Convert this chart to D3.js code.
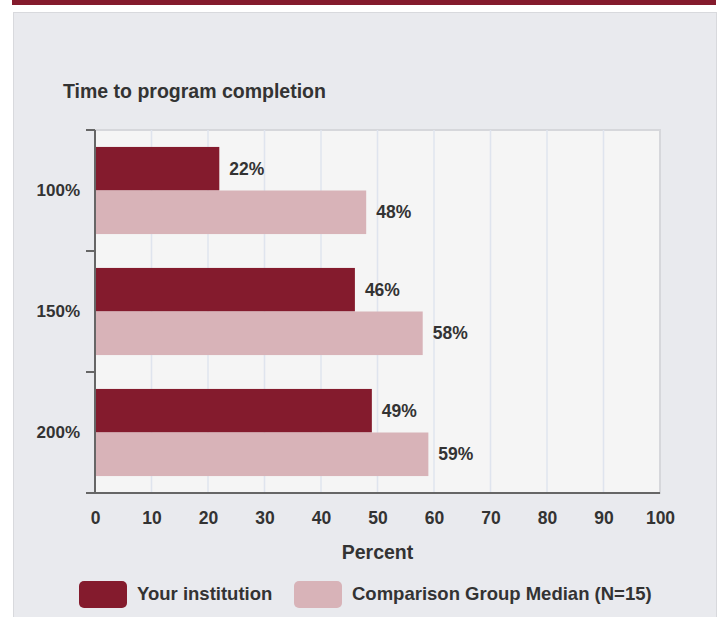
<!DOCTYPE html>
<html>
<head>
<meta charset="utf-8">
<script src="https://cdn.jsdelivr.net/npm/d3@7"></script>
<style>
  body { margin: 0; background: #fff; }
  svg { display: block; font-family: "Liberation Sans", Arial, sans-serif; }
</style>
</head>
<body>
<svg id="chart" width="721" height="617"></svg>
<script>
// data
var categories = ['100%', '150%', '200%'];
var seriesNames = ['Your institution', 'Comparison Group Median (N=15)'];
var institution = [22, 46, 49];
var comparison = [48, 58, 59];
var xTicks = [0, 10, 20, 30, 40, 50, 60, 70, 80, 90, 100];

var colors = ['#841b2d', '#d8b3b8'];
var textColor = '#333';

var svg = d3.select('#chart');

// top band + panel
svg.append('rect').attr('x', 12).attr('y', 0).attr('width', 704).attr('height', 5).attr('fill', '#841b2d');
svg.append('rect').attr('x', 13.5).attr('y', 12.5).attr('width', 703).attr('height', 620)
  .attr('fill', '#e9eaee').attr('stroke', '#d8d9dd');

var margin = {left: 95, right: 61, top: 130, bottom: 124};
var w = 721 - margin.left - margin.right;
var h = 617 - margin.top - margin.bottom;

var g = svg.append('g').attr('transform', 'translate(' + margin.left + ',' + margin.top + ')');

var x = d3.scaleLinear().domain([0, 100]).range([0, w]);
var y = d3.scaleBand().domain(categories).range([0, h]).paddingInner(0.28).paddingOuter(0.14);
var ySub = d3.scaleBand().domain([0, 1]).range([0, y.bandwidth()]);

// plot background
g.append('rect').attr('x', 0).attr('y', 0).attr('width', w).attr('height', h)
  .attr('fill', '#f5f5f5').attr('stroke', '#d6d7db').attr('stroke-width', 2);

// grid
g.selectAll('.grid').data(xTicks.slice(1, -1)).enter().append('line')
  .attr('x1', function(d) { return x(d); }).attr('x2', function(d) { return x(d); })
  .attr('y1', 0).attr('y2', h)
  .attr('stroke', '#dfe4ee').attr('stroke-width', 1.5);

// bars
var rows = categories.map(function(c, i) { return {cat: c, vals: [institution[i], comparison[i]]}; });

var grp = g.selectAll('.grp').data(rows).enter().append('g')
  .attr('transform', function(d) { return 'translate(0,' + y(d.cat) + ')'; });

grp.selectAll('rect').data(function(d) { return d.vals; }).enter().append('rect')
  .attr('x', 0)
  .attr('y', function(d, i) { return ySub(i); })
  .attr('width', function(d) { return x(d); })
  .attr('height', ySub.bandwidth())
  .attr('fill', function(d, i) { return colors[i]; });

grp.selectAll('text').data(function(d) { return d.vals; }).enter().append('text')
  .attr('x', function(d) { return x(d) + 10; })
  .attr('y', function(d, i) { return ySub(i) + ySub.bandwidth() / 2; })
  .attr('dy', '0.35em')
  .attr('fill', textColor)
  .style('font-size', '17.5px').style('font-weight', 'bold')
  .text(function(d) { return d + '%'; });

// y axis: ticks at category boundaries
var step = h / categories.length;
var bounds = d3.range(categories.length + 1).map(function(i) { return i * step; });
g.append('line').attr('x1', 0).attr('x2', 0).attr('y1', 0).attr('y2', h)
  .attr('stroke', '#666').attr('stroke-width', 2);
g.selectAll('.ytick').data(bounds).enter().append('line')
  .attr('x1', -9).attr('x2', 0)
  .attr('y1', function(d) { return d; }).attr('y2', function(d) { return d; })
  .attr('stroke', '#666').attr('stroke-width', 2);
g.selectAll('.ylab').data(categories).enter().append('text')
  .attr('x', -15)
  .attr('y', function(d) { return y(d) + y.bandwidth() / 2; })
  .attr('dy', '0.35em')
  .attr('text-anchor', 'end')
  .attr('fill', textColor)
  .style('font-size', '17px').style('font-weight', 'bold')
  .text(function(d) { return d; });

// x axis
var xAxis = g.append('g').attr('transform', 'translate(0,' + h + ')')
  .call(d3.axisBottom(x).tickValues(xTicks).tickSize(0).tickPadding(19));
xAxis.select('.domain').remove();
xAxis.selectAll('text').attr('fill', textColor)
  .style('font-size', '17.5px').style('font-weight', 'bold')
  .style('font-family', '"Liberation Sans", Arial, sans-serif');
g.append('line').attr('x1', -9).attr('x2', w).attr('y1', h).attr('y2', h)
  .attr('stroke', '#666').attr('stroke-width', 2);

g.append('text').attr('x', w / 2).attr('y', h + 66)
  .attr('text-anchor', 'middle').attr('fill', textColor)
  .style('font-size', '19.5px').style('font-weight', 'bold')
  .text('Percent');

// title
svg.append('text').attr('x', 63).attr('y', 98)
  .attr('fill', textColor)
  .style('font-size', '19.5px').style('font-weight', 'bold')
  .text('Time to program completion');

// legend
var legendX = [79, 294];
var leg = svg.selectAll('.leg').data(seriesNames).enter().append('g')
  .attr('transform', function(d, i) { return 'translate(' + legendX[i] + ',581)'; });
leg.append('rect').attr('width', 48).attr('height', 27).attr('rx', 5)
  .attr('fill', function(d, i) { return colors[i]; });
leg.append('text').attr('x', 58).attr('y', 13).attr('dy', '0.35em')
  .attr('fill', textColor)
  .style('font-size', '18.5px').style('font-weight', 'bold')
  .text(function(d) { return d; });
</script>
</body>
</html>
